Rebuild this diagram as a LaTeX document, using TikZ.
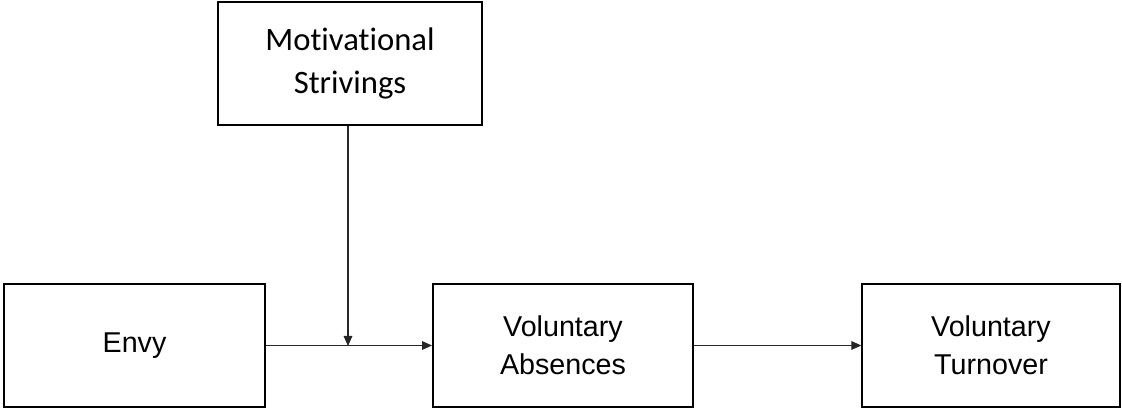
\documentclass[tikz,border=0pt]{standalone}
\usepackage{fontspec}
\setmainfont{Liberation Sans}
\newfontfamily\calibrifont[Ligatures=NoCommon]{Carlito}
\usetikzlibrary{arrows.meta,positioning,calc}

\begin{document}
\begin{tikzpicture}[
        x=0.75pt, y=-0.75pt,
        box/.style={rectangle, draw=black, line width=1.5pt, minimum height=92pt, align=center, font=\fontsize{21.5}{28.5}\selectfont},
        arrow/.style={-{Triangle[length=7.5pt,width=6.5pt]}, line width=0.8pt, color=black!85}
    ]
        \useasboundingbox (0,0) rectangle (1122,409);
        \node[box, minimum width=196pt] (envy) at (134.5, 345.5) {Envy};
        \node[box, minimum width=198pt, font=\calibrifont\fontsize{24.5}{32}\selectfont] (motive) at (350, 63.5) {Motivational\\Strivings};
        \node[box, minimum width=195pt] (absence) at (563, 345.5) {Voluntary\\Absences};
        \node[box, minimum width=193pt] (turnover) at (991, 345.5) {Voluntary\\Turnover};
        \coordinate (join) at (348, 346);
        
        \draw[arrow] (envy) -- (absence);
        \draw[arrow] (absence) -- (turnover);
        \draw[arrow] (motive.south -| join) -- (join);
    \end{tikzpicture}
\end{document}
